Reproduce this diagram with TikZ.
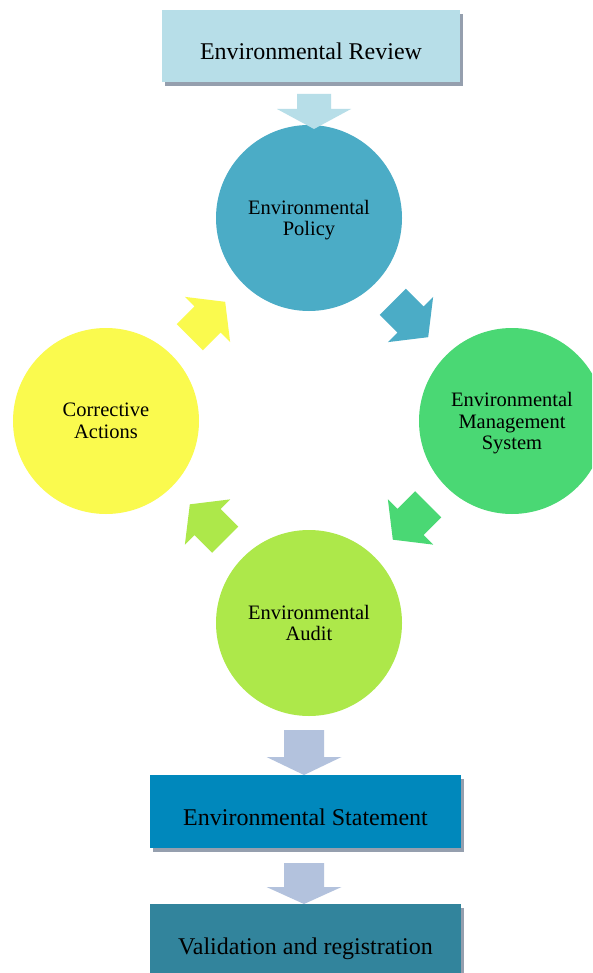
\documentclass[tikz,border=0pt]{standalone}
\usepackage{fontspec}
\setmainfont{Liberation Serif}
\usetikzlibrary{calc,shadows}

\definecolor{reviewfill}{HTML}{B7DEE8}
\definecolor{policyfill}{HTML}{4BACC6}
\definecolor{emsfill}{HTML}{4AD874}
\definecolor{auditfill}{HTML}{ADE84A}
\definecolor{correctfill}{HTML}{FAFA4E}
\definecolor{statefill}{HTML}{0088BC}
\definecolor{validfill}{HTML}{32849C}
\definecolor{flowarrow}{HTML}{B3C2DD}
\definecolor{shadowgray}{HTML}{959FAE}

% Block arrow: #1 centre, #2 direction (degrees), #3 colour,
% #4 shaft half-width, #5 shaft length, #6 head half-width, #7 head length
\newcommand\blkarrow[7]{%
  \begin{scope}[shift={#1}, rotate=#2]
    \fill[#3] ({-(#5+#7)/2},{-#4}) -- ({-(#5+#7)/2+#5},{-#4})
      -- ({-(#5+#7)/2+#5},{-#6}) -- ({(#5+#7)/2},0)
      -- ({-(#5+#7)/2+#5},{#6}) -- ({-(#5+#7)/2+#5},{#4})
      -- ({-(#5+#7)/2},{#4}) -- cycle;
  \end{scope}}

\tikzset{
  stagebox/.style={rectangle, inner sep=0pt, minimum height=72pt,
    font=\fontsize{24}{26}\selectfont, text height=28pt, text depth=0pt,
    drop shadow={shadow xshift=3pt, shadow yshift=-4pt, fill=shadowgray, opacity=1}},
  cyclenode/.style={circle, inner sep=0pt, minimum size=186pt, align=center,
    font=\fontsize{20.5}{21.7}\selectfont, text depth=0pt},
}

\begin{document}
\begin{tikzpicture}[x=1pt, y=-1pt]
  \clip (0,0) rectangle (592,973);
  \fill[white] (0,0) rectangle (592,973);

  % entry and exit stages
  \node[stagebox, fill=reviewfill, minimum width=298pt] (review) at (311,46) {Environmental Review};
  \node[stagebox, fill=statefill, minimum width=311pt, minimum height=73pt] (statement) at (305.5,811.5) {Environmental Statement};
  \node[stagebox, fill=validfill, minimum width=311pt, minimum height=73pt] (validation) at (305.5,940.5) {Validation and registration};

  % the improvement cycle
  \node[cyclenode, fill=policyfill] (policy) at (309,218) {Environmental\\Policy};
  \node[cyclenode, fill=emsfill] (ems) at (512,421) {Environmental\\Management\\System};
  \node[cyclenode, fill=auditfill] (audit) at (309,623) {Environmental\\Audit};
  \node[cyclenode, fill=correctfill] (corrective) at (106,421) {Corrective\\Actions};

  % vertical flow arrows
  \blkarrow{(314,111.5)}{-90}{reviewfill}{17}{15}{37}{20}
  \blkarrow{(304,752.5)}{-90}{flowarrow}{20}{27}{37.5}{18}
  \blkarrow{(304,883.5)}{-90}{flowarrow}{20}{24}{37.5}{17}

  % cycle arrows between neighbouring stages
  \blkarrow{($(policy)!0.5!(ems)$)}{-45}{policyfill}{18.5}{25}{32}{25}
  \blkarrow{($(ems)!0.5!(audit)$)}{-135}{emsfill}{18.5}{25}{32}{25}
  \blkarrow{($(audit)!0.5!(corrective)$)}{135}{auditfill}{18.5}{25}{32}{25}
  \blkarrow{($(corrective)!0.5!(policy)$)}{45}{correctfill}{18.5}{25}{32}{25}
\end{tikzpicture}
\end{document}
